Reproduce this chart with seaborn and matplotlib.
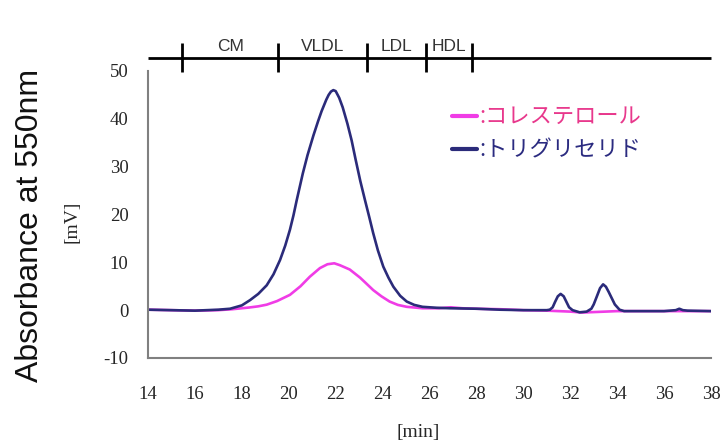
import numpy as np
import pandas as pd
import matplotlib
matplotlib.use("Agg")
import matplotlib.pyplot as plt
import seaborn as sns

# ---- data ----
time_tg = [14, 15, 16, 16.5, 17, 17.5, 18, 18.35, 18.7, 19.06, 19.35, 19.63, 19.85, 20.05, 20.2,
           20.34, 20.6, 20.8, 21.05, 21.25, 21.4, 21.6, 21.7, 21.8, 21.9, 22.0, 22.15, 22.3, 22.5,
           22.68, 22.85, 23.05, 23.25, 23.43, 23.6, 23.8, 24.03, 24.25, 24.46, 24.75, 25.03, 25.35,
           25.7, 26.3, 26.87, 28, 29, 30, 31, 31.13, 31.25, 31.35, 31.47, 31.59, 31.72, 31.84,
           31.95, 32.1, 32.4, 32.7, 32.9, 33.0, 33.12, 33.27, 33.4, 33.52, 33.64, 33.76, 33.9,
           34.1, 34.3, 35, 36, 36.5, 36.65, 36.8, 37, 38]
trig = [0.1, 0.0, -0.1, 0.0, 0.1, 0.3, 1.0, 2.1, 3.4, 5.2, 7.5, 10.5, 13.5, 16.8, 19.8,
        23.0, 28.6, 32.4, 36.5, 39.5, 41.6, 44.0, 45.0, 45.7, 46.0, 45.8, 44.4, 42.4, 39.0,
        35.5, 31.5, 27.0, 23.0, 19.5, 16.1, 12.5, 9.1, 6.8, 4.9, 3.0, 1.8, 1.1,
        0.7, 0.5, 0.4, 0.3, 0.1, 0.0, 0.0, 0.1, 0.6, 1.7, 2.9, 3.4, 2.9, 1.7,
        0.6, 0.0, -0.45, -0.3, 0.3, 1.2, 2.7, 4.6, 5.4, 4.9, 3.8, 2.6, 1.2,
        0.1, -0.2, -0.2, -0.2, 0.0, 0.3, 0.0, -0.1, -0.2]

time_ch = [14, 15, 16, 17, 17.6, 18.3, 18.7, 19.06, 19.5, 20.05, 20.5, 20.9, 21.33, 21.65, 21.94,
           22.18, 22.6, 23.04, 23.3, 23.6, 23.95, 24.3, 24.65, 25.03, 25.7, 26.4, 26.9, 27.4,
           28, 29, 30, 31, 31.5, 32, 32.5, 33, 33.5, 34, 35, 36, 37, 38]
chol = [0.1, 0.0, -0.1, 0.0, 0.2, 0.55, 0.8, 1.15, 1.9, 3.2, 5.0, 7.0, 8.8, 9.6, 9.8,
        9.4, 8.5, 6.8, 5.6, 4.2, 2.9, 1.8, 1.1, 0.7, 0.4, 0.4, 0.6, 0.4,
        0.3, 0.2, 0.0, -0.1, -0.2, -0.3, -0.5, -0.4, -0.3, -0.2, -0.2, -0.2, -0.2, -0.2]

series_names = ["コレステロール", "トリグリセリド"]
fraction_bounds = [15.45, 19.55, 23.35, 25.85, 27.8]
fraction_labels = ["CM", "VLDL", "LDL", "HDL"]
xticks = list(range(14, 39, 2))
yticks = list(range(-10, 51, 10))

df = pd.concat([
    pd.DataFrame({"min": time_ch, "mV": chol, "series": series_names[0]}),
    pd.DataFrame({"min": time_tg, "mV": trig, "series": series_names[1]}),
])

sns.set_style("white")
plt.rcParams['font.family'] = ['Liberation Serif', 'DejaVu Sans']
plt.rcParams['axes.unicode_minus'] = False

fig = plt.figure(figsize=(7.28, 4.44), dpi=100)
ax = fig.add_axes([148/728, 1-358/444, (711-148)/728, (358-71)/444])

line_colors = {series_names[0]: "#F03CE6", series_names[1]: "#2B2B7A"}
text_colors = {series_names[0]: "#E8388C", series_names[1]: "#2B2B80"}
sns.lineplot(data=df, x="min", y="mV", hue="series", hue_order=series_names,
             palette=line_colors, linewidth=1.9, ax=ax, sort=False)

ax.set_xlim(14, 38)
ax.set_ylim(-10, 50)
ax.set_xticks(xticks)
ax.set_yticks(yticks)
ax.set_xlabel("")
ax.set_ylabel("")
ax.tick_params(axis="x", length=0, pad=20, labelsize=13.5)
ax.tick_params(axis="y", direction="in", length=4, width=1, color="#808080", pad=14, labelsize=13.5)
for s in ["top", "right"]:
    ax.spines[s].set_visible(False)
for s in ["left", "bottom"]:
    ax.spines[s].set_color("#808080")
    ax.spines[s].set_linewidth(1.5)

# legend
handles, labels = ax.get_legend_handles_labels()
leg = ax.legend(handles, [":" + l for l in labels], loc="upper left",
                bbox_to_anchor=(0.505, 0.95), frameon=False, handlelength=1.1,
                handletextpad=0.1, labelspacing=0.45,
                prop={"family": ["Noto Sans CJK JP", "DejaVu Sans"], "size": 16})
for h in leg.get_lines():
    h.set_linewidth(3)
for t, name in zip(leg.get_texts(), labels):
    t.set_color(text_colors[name])

# fraction bar above the plot
bar_y = 52.7
ax.hlines(bar_y, 14, 38, color="black", linewidth=2, clip_on=False)
ax.vlines(fraction_bounds, 49.7, 55.8, color="black", linewidth=2, clip_on=False)
for i, lab in enumerate(fraction_labels):
    cx = (fraction_bounds[i] + fraction_bounds[i + 1]) / 2
    ax.text(cx, 55.1, lab, ha="center", va="center", fontsize=12.5,
            family=["Liberation Sans"], color="#333333", clip_on=False)

fig.text(30/728, 1-225/444, "Absorbance at 550nm", rotation=90, ha="center", va="center",
         fontsize=23, family=["Liberation Sans"], color="#111111")
fig.text(72/728, 1-222/444, "[mV]", rotation=90, ha="center", va="center",
         fontsize=14, family=["Liberation Serif"])
fig.text(418/728, 1-432/444, "[min]", ha="center", va="center",
         fontsize=14, family=["Liberation Serif"])

fig.savefig("out.png", dpi=100, facecolor="white")
